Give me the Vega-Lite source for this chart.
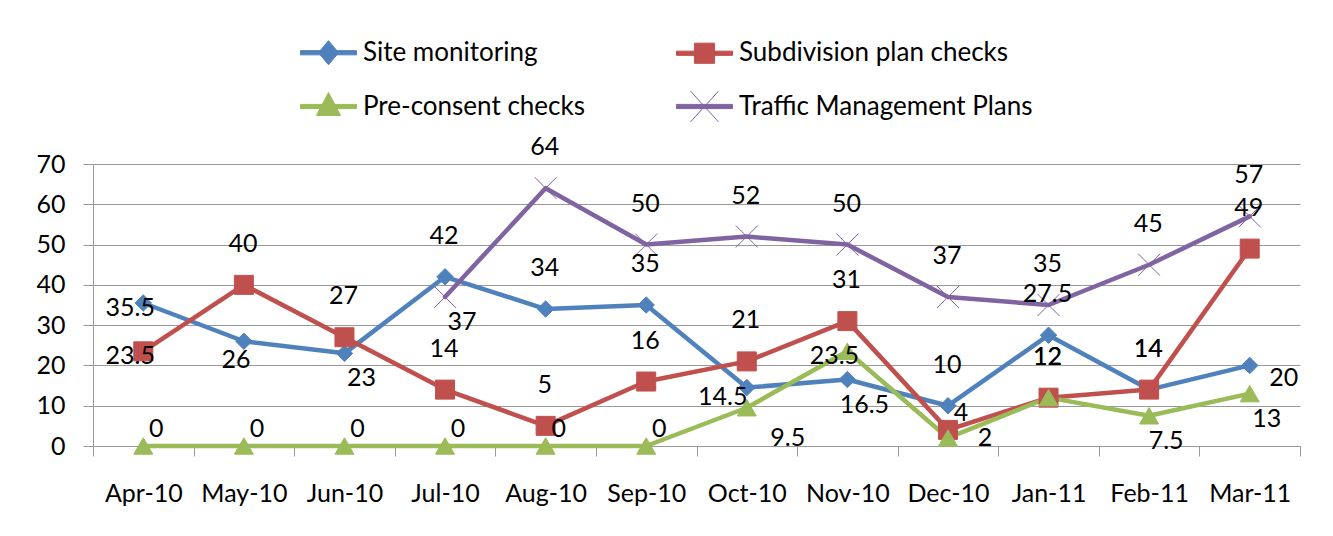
{
  "$schema": "https://vega.github.io/schema/vega-lite/v6.json",
  "width": 1207,
  "height": 282,
  "autosize": {"type": "none"},
  "padding": {"left": 93, "top": 164, "right": 33, "bottom": 90},
  "background": "#ffffff",
  "config": {
    "view": {"stroke": null},
    "font": "Lato",
    "axis": {"labelFont": "Lato", "labelFontSize": 25, "labelColor": "#000000", "domainColor": "#999999", "tickColor": "#999999", "gridColor": "#999999", "domainWidth": 1, "tickWidth": 1, "gridWidth": 1}
  },
  "data": {
    "values": [
      {"month": "Apr-10", "series": "Site monitoring", "value": 35.5},
      {"month": "May-10", "series": "Site monitoring", "value": 26},
      {"month": "Jun-10", "series": "Site monitoring", "value": 23},
      {"month": "Jul-10", "series": "Site monitoring", "value": 42},
      {"month": "Aug-10", "series": "Site monitoring", "value": 34},
      {"month": "Sep-10", "series": "Site monitoring", "value": 35},
      {"month": "Oct-10", "series": "Site monitoring", "value": 14.5},
      {"month": "Nov-10", "series": "Site monitoring", "value": 16.5},
      {"month": "Dec-10", "series": "Site monitoring", "value": 10},
      {"month": "Jan-11", "series": "Site monitoring", "value": 27.5},
      {"month": "Feb-11", "series": "Site monitoring", "value": 14},
      {"month": "Mar-11", "series": "Site monitoring", "value": 20},
      {"month": "Apr-10", "series": "Subdivision plan checks", "value": 23.5},
      {"month": "May-10", "series": "Subdivision plan checks", "value": 40},
      {"month": "Jun-10", "series": "Subdivision plan checks", "value": 27},
      {"month": "Jul-10", "series": "Subdivision plan checks", "value": 14},
      {"month": "Aug-10", "series": "Subdivision plan checks", "value": 5},
      {"month": "Sep-10", "series": "Subdivision plan checks", "value": 16},
      {"month": "Oct-10", "series": "Subdivision plan checks", "value": 21},
      {"month": "Nov-10", "series": "Subdivision plan checks", "value": 31},
      {"month": "Dec-10", "series": "Subdivision plan checks", "value": 4},
      {"month": "Jan-11", "series": "Subdivision plan checks", "value": 12},
      {"month": "Feb-11", "series": "Subdivision plan checks", "value": 14},
      {"month": "Mar-11", "series": "Subdivision plan checks", "value": 49},
      {"month": "Apr-10", "series": "Pre-consent checks", "value": 0},
      {"month": "May-10", "series": "Pre-consent checks", "value": 0},
      {"month": "Jun-10", "series": "Pre-consent checks", "value": 0},
      {"month": "Jul-10", "series": "Pre-consent checks", "value": 0},
      {"month": "Aug-10", "series": "Pre-consent checks", "value": 0},
      {"month": "Sep-10", "series": "Pre-consent checks", "value": 0},
      {"month": "Oct-10", "series": "Pre-consent checks", "value": 9.5},
      {"month": "Nov-10", "series": "Pre-consent checks", "value": 23.5},
      {"month": "Dec-10", "series": "Pre-consent checks", "value": 2},
      {"month": "Jan-11", "series": "Pre-consent checks", "value": 12},
      {"month": "Feb-11", "series": "Pre-consent checks", "value": 7.5},
      {"month": "Mar-11", "series": "Pre-consent checks", "value": 13},
      {"month": "Jul-10", "series": "Traffic Management Plans", "value": 37},
      {"month": "Aug-10", "series": "Traffic Management Plans", "value": 64},
      {"month": "Sep-10", "series": "Traffic Management Plans", "value": 50},
      {"month": "Oct-10", "series": "Traffic Management Plans", "value": 52},
      {"month": "Nov-10", "series": "Traffic Management Plans", "value": 50},
      {"month": "Dec-10", "series": "Traffic Management Plans", "value": 37},
      {"month": "Jan-11", "series": "Traffic Management Plans", "value": 35},
      {"month": "Feb-11", "series": "Traffic Management Plans", "value": 45},
      {"month": "Mar-11", "series": "Traffic Management Plans", "value": 57}
    ]
  },
  "encoding": {
    "x": {
      "field": "month", "type": "ordinal",
      "sort": ["Apr-10", "May-10", "Jun-10", "Jul-10", "Aug-10", "Sep-10", "Oct-10", "Nov-10", "Dec-10", "Jan-11", "Feb-11", "Mar-11"],
      "scale": {"type": "band", "paddingInner": 0, "paddingOuter": 0},
      "bandPosition": 0.5,
      "axis": {"title": null, "labelAngle": 0, "tickSize": 10, "tickBand": "extent", "labelPadding": 25, "grid": false}
    },
    "y": {
      "field": "value", "type": "quantitative",
      "scale": {"domain": [0, 70], "nice": false, "zero": true},
      "axis": {"title": null, "values": [0, 10, 20, 30, 40, 50, 60, 70], "tickSize": 10, "labelPadding": 18, "grid": true, "format": "d"}
    }
  },
  "layer": [
    {
      "mark": {"type": "line", "strokeWidth": 4.5, "strokeJoin": "round", "strokeCap": "round"},
      "encoding": {
        "color": {
          "field": "series", "type": "nominal",
          "scale": {"domain": ["Site monitoring", "Subdivision plan checks", "Pre-consent checks", "Traffic Management Plans"], "range": ["#4F81BD", "#C0504D", "#9BBB59", "#8064A2"]},
          "legend": {
            "title": null, "orient": "none", "legendX": 207, "legendY": -140, "direction": "horizontal", "columns": 2,
            "symbolSize": 3136, "symbolStrokeWidth": 1, "labelOffset": 6, "columnPadding": 89, "rowPadding": 11, "padding": 0,
            "labelFont": "Lato", "labelFontSize": 26, "labelColor": "#000000", "labelLimit": 500, "gridAlign": "each",
            "symbolType": "M-1,-0.075H1V0.075H-1Z",
            "encode": {
              "symbols": {
                "update": {
                  "shape": {"signal": "datum.value === 'Site monitoring' ? 'M-1,-0.075H1V0.075H-1ZM0,-0.43L0.36,0L0,0.43L-0.36,0Z' : datum.value === 'Subdivision plan checks' ? 'M-1,-0.075H1V0.075H-1ZM-0.36,-0.36H0.36V0.36H-0.36Z' : datum.value === 'Pre-consent checks' ? 'M-1,-0.075H1V0.075H-1ZM0,-0.5L0.43,0.32H-0.43Z' : 'M-1,-0.075H1V0.075H-1ZM-0.5,-0.55L0.5,0.55M-0.5,0.55L0.5,-0.55'"},
                  "fill": {"scale": "color", "field": "value"},
                  "stroke": {"scale": "color", "field": "value"},
                  "strokeWidth": {"value": 1},
                  "opacity": {"value": 1},
                  "fillOpacity": {"value": 1},
                  "strokeOpacity": {"value": 1}
                }
              }
            }
          }
        }
      }
    },
    {
      "transform": [{"filter": "datum.series === 'Site monitoring'"}],
      "mark": {"type": "point", "shape": "diamond", "filled": true, "opacity": 1, "size": 270, "fill": "#4F81BD", "stroke": "#4F81BD", "strokeWidth": 1}
    },
    {
      "transform": [{"filter": "datum.series === 'Subdivision plan checks'"}],
      "mark": {"type": "point", "shape": "square", "filled": true, "opacity": 1, "size": 361, "fill": "#C0504D", "stroke": "#C0504D", "strokeWidth": 1}
    },
    {
      "transform": [{"filter": "datum.series === 'Pre-consent checks'"}],
      "mark": {"type": "point", "shape": "triangle-up", "filled": true, "opacity": 1, "size": 361, "fill": "#9BBB59", "stroke": "#9BBB59", "strokeWidth": 1}
    },
    {
      "transform": [{"filter": "datum.series === 'Traffic Management Plans'"}],
      "mark": {"type": "point", "shape": "M-1,-1L1,1M-1,1L1,-1", "filled": false, "opacity": 1, "size": 484, "stroke": "#8064A2", "strokeWidth": 1}
    },
    {
      "transform": [{"filter": "!((datum.month === 'Apr-10' && (datum.series === 'Site monitoring' || datum.series === 'Subdivision plan checks')) || (datum.series === 'Pre-consent checks' && datum.month === 'Nov-10') || (datum.series === 'Site monitoring' && (datum.month === 'May-10' || datum.month === 'Jun-10' || datum.month === 'Nov-10' || datum.month === 'Oct-10' || datum.month === 'Mar-11')) || (datum.series === 'Pre-consent checks' && (datum.month === 'Feb-11' || datum.month === 'Mar-11' || datum.month === 'Oct-10' || datum.month === 'Dec-10' || datum.value === 0)) || (datum.series === 'Traffic Management Plans' && datum.month === 'Jul-10') || (datum.series === 'Subdivision plan checks' && datum.month === 'Dec-10'))"}],
      "mark": {"type": "text", "dx": -1, "dy": -41, "font": "Lato", "fontSize": 25, "fill": "#000000", "baseline": "middle", "align": "center"},
      "encoding": {"text": {"field": "value", "type": "quantitative", "format": "~g"}}
    },
    {
      "transform": [{"filter": "(datum.month === 'Apr-10' && (datum.series === 'Site monitoring' || datum.series === 'Subdivision plan checks')) || (datum.series === 'Pre-consent checks' && datum.month === 'Nov-10')"}],
      "mark": {"type": "text", "dx": -13, "dy": 5, "font": "Lato", "fontSize": 25, "fill": "#000000", "baseline": "middle", "align": "center"},
      "encoding": {"text": {"field": "value", "type": "quantitative", "format": "~g"}}
    },
    {
      "transform": [{"filter": "datum.series === 'Site monitoring' && datum.month === 'May-10'"}],
      "mark": {"type": "text", "dx": -8, "dy": 19, "font": "Lato", "fontSize": 25, "fill": "#000000", "baseline": "middle", "align": "center"},
      "encoding": {"text": {"field": "value", "type": "quantitative", "format": "~g"}}
    },
    {
      "transform": [{"filter": "(datum.series === 'Site monitoring' && (datum.month === 'Jun-10' || datum.month === 'Nov-10')) || (datum.series === 'Pre-consent checks' && (datum.month === 'Feb-11' || datum.month === 'Mar-11')) || (datum.series === 'Traffic Management Plans' && datum.month === 'Jul-10')"}],
      "mark": {"type": "text", "dx": 17, "dy": 25, "font": "Lato", "fontSize": 25, "fill": "#000000", "baseline": "middle", "align": "center"},
      "encoding": {"text": {"field": "value", "type": "quantitative", "format": "~g"}}
    },
    {
      "transform": [{"filter": "datum.series === 'Site monitoring' && datum.month === 'Oct-10'"}],
      "mark": {"type": "text", "dx": -24, "dy": 9, "font": "Lato", "fontSize": 25, "fill": "#000000", "baseline": "middle", "align": "center"},
      "encoding": {"text": {"field": "value", "type": "quantitative", "format": "~g"}}
    },
    {
      "transform": [{"filter": "datum.series === 'Site monitoring' && datum.month === 'Mar-11'"}],
      "mark": {"type": "text", "dx": 34, "dy": 13, "font": "Lato", "fontSize": 25, "fill": "#000000", "baseline": "middle", "align": "center"},
      "encoding": {"text": {"field": "value", "type": "quantitative", "format": "~g"}}
    },
    {
      "transform": [{"filter": "(datum.series === 'Subdivision plan checks' && datum.month === 'Dec-10') || (datum.series === 'Pre-consent checks' && datum.value === 0)"}],
      "mark": {"type": "text", "dx": 13, "dy": -17, "font": "Lato", "fontSize": 25, "fill": "#000000", "baseline": "middle", "align": "center"},
      "encoding": {"text": {"field": "value", "type": "quantitative", "format": "~g"}}
    },
    {
      "transform": [{"filter": "datum.series === 'Pre-consent checks' && datum.month === 'Oct-10'"}],
      "mark": {"type": "text", "dx": 41, "dy": 30, "font": "Lato", "fontSize": 25, "fill": "#000000", "baseline": "middle", "align": "center"},
      "encoding": {"text": {"field": "value", "type": "quantitative", "format": "~g"}}
    },
    {
      "transform": [{"filter": "datum.series === 'Pre-consent checks' && datum.month === 'Dec-10'"}],
      "mark": {"type": "text", "dx": 37, "dy": 0, "font": "Lato", "fontSize": 25, "fill": "#000000", "baseline": "middle", "align": "center"},
      "encoding": {"text": {"field": "value", "type": "quantitative", "format": "~g"}}
    }
  ]
}
